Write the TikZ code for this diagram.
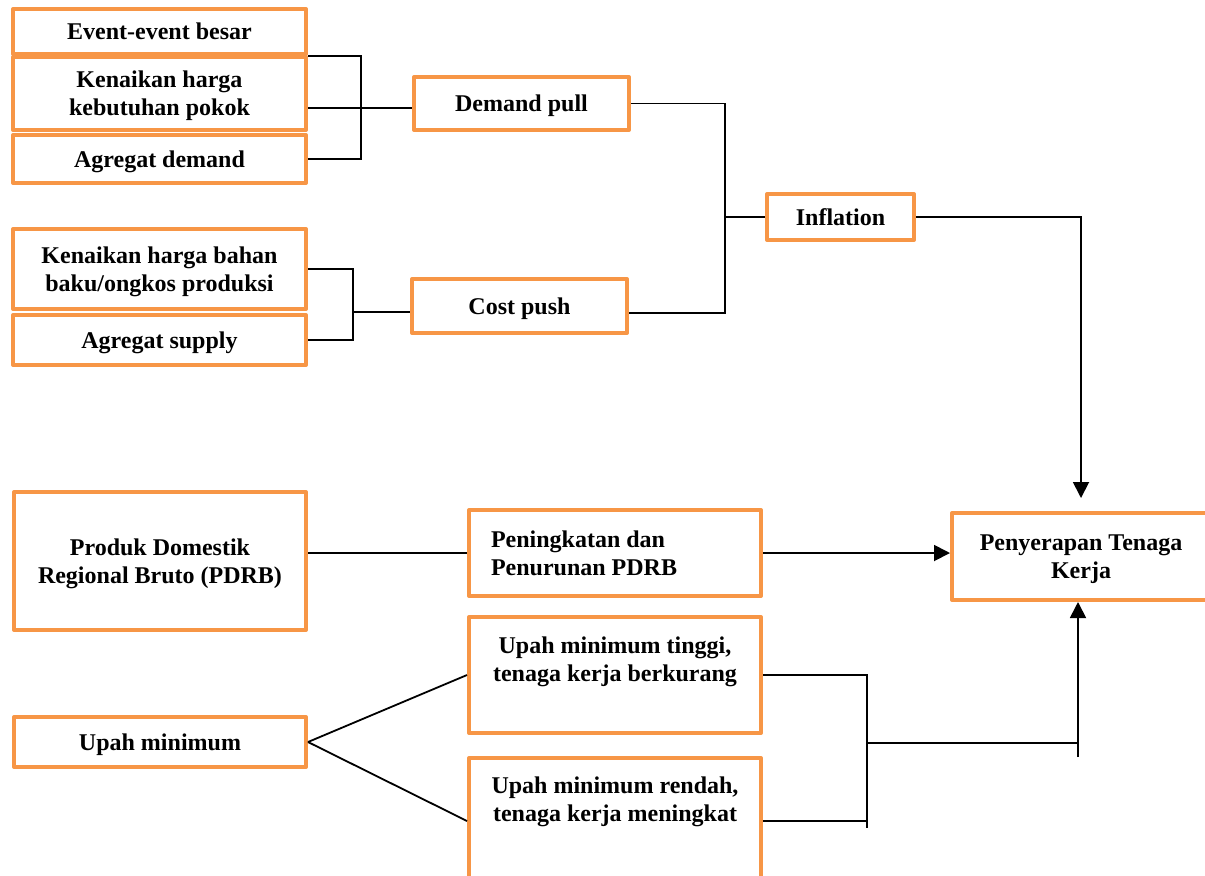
\documentclass[tikz,border=0pt]{standalone}
\usepackage{fontspec}
\setmainfont{Liberation Serif}
\usepackage{tikz}
\usetikzlibrary{arrows.meta,calc}
\definecolor{BoxOrange}{HTML}{F79646}
\definecolor{LineBlack}{HTML}{000000}
\tikzset{
    % Base node style
    basenode/.style={
        draw=BoxOrange,
        fill=white,
        line width=2pt,
        line join=round,
        minimum width=146.5pt,
        text depth=0pt,
        align=center,
        font=\fontsize{12}{14}\selectfont\bfseries
    },
    % Small box in the middle column
    midbox/.style={
        basenode,
        minimum width=107.5pt
    },
    % Wide box in the lower part
    widebox/.style={
        basenode,
        minimum width=146pt
    },
    % Plain connector
    myline/.style={
        line width=0.9pt,
        draw=LineBlack
    },
    % Connector with arrow
    myarrow/.style={
        myline,
        -{Triangle[length=8pt,width=8pt]}
    }
}
\begin{document}
\begin{tikzpicture}[x=0.5pt, y=-0.5pt]
        \useasboundingbox (0,0) rectangle (1205,875);
        \clip (0,0) rectangle (1205,875);

        % Demand side
        \node[basenode, minimum height=22.5pt] (ev) at (159.5,31.5) {Event-event besar};
        \node[basenode, minimum height=36.5pt] (kh) at (159.5,93.5) {Kenaikan harga\\kebutuhan pokok};
        \node[basenode, minimum height=24pt] (ad) at (159.5,159) {Agregat demand};

        % Supply side
        \node[basenode, minimum height=40pt] (kb) at (159.5,269) {Kenaikan harga bahan\\baku/ongkos produksi};
        \node[basenode, minimum height=25pt] (as) at (159.5,340) {Agregat supply};

        % Inflation types
        \node[midbox, minimum height=26.5pt] (dp) at (521.5,103.5) {Demand pull};
        \node[midbox, minimum height=27pt] (cp) at (519.5,306) {Cost push};
        \node[basenode, minimum width=73.5pt, minimum height=23pt] (inf) at (840.5,217) {Inflation};

        % PDRB and wages
        \node[widebox, minimum height=69pt] (pdrb) at (160,561) {Produk Domestik\\Regional Bruto (PDRB)};
        \node[widebox, minimum height=25pt] (um) at (160,742) {Upah minimum};
        \node[widebox, minimum height=43pt, text depth={}, text width=124pt, align=flush left] (pen) at (615,553) {Peningkatan dan\\Penurunan PDRB};
        \node[widebox, minimum height=58pt] (ut) at (615,675) {Upah minimum tinggi,\\tenaga kerja berkurang\\[2pt] \mbox{}};
        \node[widebox, minimum height=63pt] (ur) at (615,821) {Upah minimum rendah,\\tenaga kerja meningkat\\[8pt] \mbox{}};

        % Labour absorption
        \node[basenode, minimum width=129pt, minimum height=43.5pt] (pty) at (1081,556.5) {Penyerapan Tenaga\\Kerja};

        % Junctions
        \coordinate (j1) at (361,108);
        \coordinate (j2) at (725,217);
        \coordinate (j3) at (353,312);
        \coordinate (j4) at (867,743);
        \coordinate (j5) at (867,828);
        \coordinate (j6) at (1078,757);

        % Connectors
        \draw[myline] (ev.south east) -| (j1) |- (ad.east);
        \draw[myline] (kh.east |- j1) -- (dp.west |- j1);
        \draw[myline] (kb.east) -| (j3) |- (as.east);
        \draw[myline] (j3) -- (cp.west |- j3);
        \draw[myline] (dp.east) -| (j2) |- ([yshift=-3.5pt]cp.east);
        \draw[myline] (j2) -- (inf.west);
        \draw[myarrow] (inf.east) -| ([yshift=6.5pt]pty.north);
        \draw[myline] (pdrb.east |- pen.west) -- (pen.west);
        \draw[myarrow] (pen.east) -- (pen.east -| pty.west);
        \draw[myline] (um.east) -- (ut.west);
        \draw[myline] (um.east) -- (ur.west);
        \draw[myline] (ut.east) -| (j5);
        \draw[myline] (ur.east) -- (ur.east -| j5);
        \draw[myline] (j4) -- (j4 -| j6);
        \draw[myarrow] (j6) -- (j6 |- pty.south);
    \end{tikzpicture}
\end{document}
